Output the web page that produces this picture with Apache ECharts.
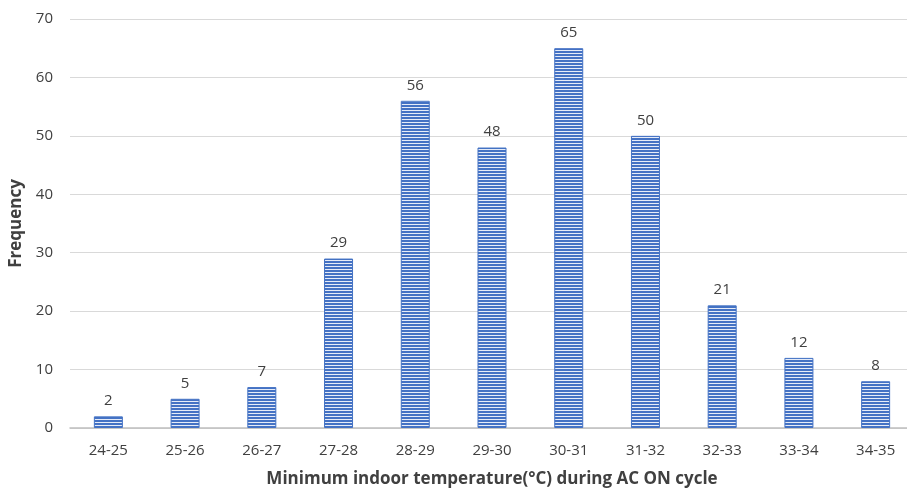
<!DOCTYPE html>
<html>
<head>
<meta charset="utf-8">
<script src="https://cdn.jsdelivr.net/npm/echarts@6/dist/echarts.min.js"></script>
<style>
html,body{margin:0;padding:0;background:#fff;}
#chart{width:907px;height:492px;}
</style>
</head>
<body>
<div id="chart"></div>
<script>
const categories = ['24-25','25-26','26-27','27-28','28-29','29-30','30-31','31-32','32-33','33-34','34-35'];
const frequency = [2, 5, 7, 29, 56, 48, 65, 50, 21, 12, 8];
const yTicks = [0, 10, 20, 30, 40, 50, 60, 70];

// horizontal stripe fill for the bars
const stripe = document.createElement('canvas');
stripe.width = 4; stripe.height = 3;
const sctx = stripe.getContext('2d');
sctx.fillStyle = '#e6ecf8';
sctx.fillRect(0, 0, 4, 3);
sctx.fillStyle = '#4472c4';
sctx.fillRect(0, 0, 4, 2);

const chart = echarts.init(document.getElementById('chart'));
chart.setOption({
  animation: false,
  grid: { left: 70, right: -7, top: 19, bottom: 64, containLabel: false, outerBoundsMode: 'none' },
  xAxis: {
    type: 'category',
    data: categories,
    axisTick: { show: false },
    axisLine: { lineStyle: { color: '#bfbfbf', width: 1.5 } },
    axisLabel: { color: '#404040', fontSize: 15, fontFamily: 'Open Sans', margin: 15 },
    name: 'Minimum indoor temperature(°C) during AC ON cycle',
    nameLocation: 'middle',
    nameGap: 43,
    nameTextStyle: { color: '#404040', fontSize: 17, fontWeight: 'bold', fontFamily: 'Open Sans' }
  },
  yAxis: {
    type: 'value',
    min: yTicks[0],
    max: yTicks[yTicks.length - 1],
    interval: 10,
    axisLine: { show: false },
    axisTick: { show: false },
    splitLine: { lineStyle: { color: '#d9d9d9', width: 1 } },
    axisLabel: { color: '#404040', fontSize: 15, fontFamily: 'Open Sans', margin: 17 },
    name: 'Frequency',
    nameLocation: 'middle',
    nameGap: 41,
    nameTextStyle: { color: '#404040', fontSize: 17, fontWeight: 'bold', fontFamily: 'Open Sans' }
  },
  series: [{
    type: 'bar',
    data: frequency,
    barWidth: 29,
    itemStyle: {
      color: { image: stripe, repeat: 'repeat' },
      borderColor: '#4472c4',
      borderWidth: 1
    },
    label: {
      show: true,
      position: 'top',
      distance: 8,
      color: '#404040',
      fontSize: 15,
      fontFamily: 'Open Sans'
    }
  }]
});
</script>
</body>
</html>
